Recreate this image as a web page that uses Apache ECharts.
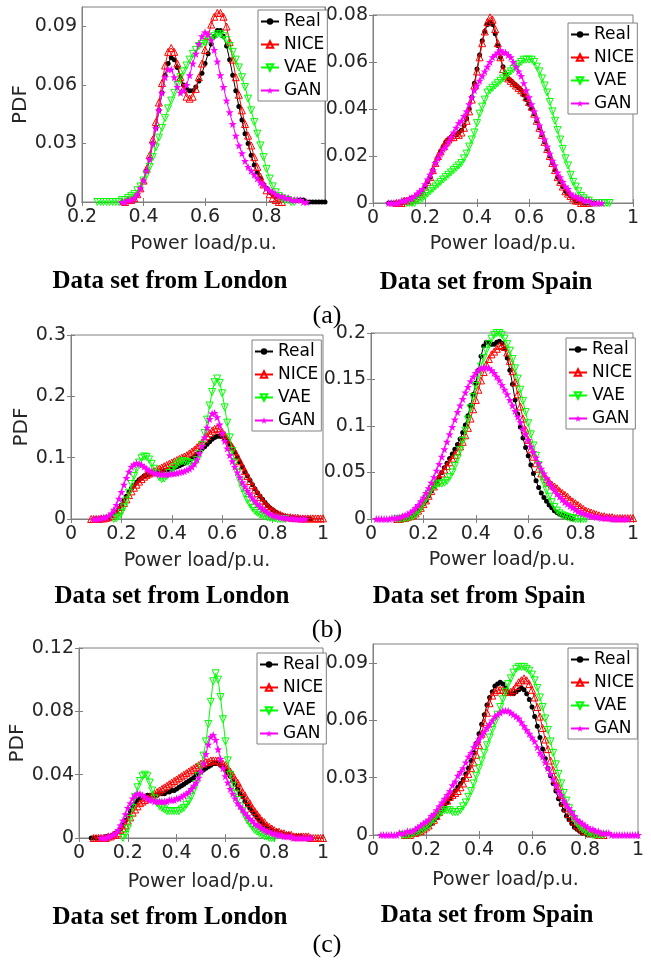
<!DOCTYPE html>
<html><head><meta charset="utf-8">
<script src="https://cdn.jsdelivr.net/npm/echarts@6/dist/echarts.min.js"></script>
<style>html,body{margin:0;padding:0;background:#fff}#c{width:651px;height:963px}</style>
</head><body><div id="c"></div>
<script>
// shared x grid (power load, p.u.)
const xGrid = [0,0.01,0.02,0.03,0.04,0.05,0.06,0.07,0.08,0.09,0.1,0.11,0.12,0.13,0.14,0.15,0.16,0.17,0.18,0.19,0.2,0.21,0.22,0.23,0.24,0.25,0.26,0.27,0.28,0.29,0.3,0.31,0.32,0.33,0.34,0.35,0.36,0.37,0.38,0.39,0.4,0.41,0.42,0.43,0.44,0.45,0.46,0.47,0.48,0.49,0.5,0.51,0.52,0.53,0.54,0.55,0.56,0.57,0.58,0.59,0.6,0.61,0.62,0.63,0.64,0.65,0.66,0.67,0.68,0.69,0.7,0.71,0.72,0.73,0.74,0.75,0.76,0.77,0.78,0.79,0.8,0.81,0.82,0.83,0.84,0.85,0.86,0.87,0.88,0.89,0.9,0.91,0.92,0.93,0.94,0.95,0.96,0.97,0.98,0.99,1];
const seriesNames = ['Real','NICE','VAE','GAN'];

// ---- (a) London ----
const lonA_start = [0.33,0.34,0.25,0.33];
const lonA_real = [0,0,0.001,0.001,0.002,0.004,0.007,0.011,0.016,0.022,0.030,0.038,0.047,0.056,0.065,0.071,0.074,0.073,0.069,0.064,0.060,0.058,0.057,0.057,0.059,0.062,0.066,0.071,0.076,0.081,0.085,0.088,0.088,0.085,0.080,0.073,0.065,0.057,0.049,0.042,0.035,0.030,0.024,0.019,0.015,0.012,0.009,0.007,0.005,0.004,0.003,0.003,0.002,0.002,0.002,0.001,0.001,0.001,0.001,0.001,0,0,0,0,0,0,0];
const lonA_nice = [0,0.001,0.001,0.002,0.004,0.007,0.011,0.017,0.024,0.032,0.041,0.051,0.061,0.070,0.077,0.079,0.077,0.071,0.064,0.058,0.054,0.053,0.054,0.058,0.064,0.071,0.078,0.085,0.091,0.095,0.097,0.097,0.095,0.090,0.082,0.073,0.064,0.055,0.047,0.040,0.034,0.029,0.023,0.018,0.013,0.009,0.006,0.004,0.002,0.001,0,0];
const lonA_vae = [0,0,0,0,0,0,0,0,0.001,0.001,0.002,0.003,0.004,0.006,0.008,0.011,0.014,0.018,0.023,0.028,0.033,0.038,0.043,0.048,0.052,0.056,0.060,0.064,0.067,0.070,0.073,0.076,0.078,0.080,0.081,0.082,0.083,0.084,0.085,0.086,0.086,0.085,0.083,0.080,0.077,0.073,0.069,0.064,0.059,0.053,0.047,0.041,0.035,0.029,0.023,0.017,0.012,0.008,0.005,0.003,0.002,0.001,0.001,0,0];
const lonA_gan = [0,0,0.001,0.001,0.002,0.004,0.007,0.011,0.016,0.022,0.030,0.038,0.047,0.056,0.064,0.068,0.068,0.064,0.059,0.056,0.057,0.060,0.065,0.071,0.076,0.081,0.085,0.087,0.086,0.083,0.078,0.072,0.065,0.059,0.052,0.046,0.040,0.034,0.029,0.025,0.021,0.018,0.016,0.014,0.012,0.010,0.009,0.007,0.006,0.005,0.004,0.003,0.003,0.002,0.002,0.001,0.001,0.001,0.001,0,0];
const lonA_xticks = [0.2,0.4,0.6,0.8];
const lonA_yticks = [0,0.03,0.06,0.09];

// ---- (a) Spain ----
const spaA_start = [0.06,0.09,0.13,0.06];
const spaA_real = [0,0,0,0,0,0,0.001,0.001,0.001,0.002,0.002,0.003,0.004,0.005,0.007,0.009,0.011,0.014,0.017,0.019,0.022,0.024,0.026,0.027,0.028,0.029,0.029,0.030,0.031,0.033,0.036,0.040,0.045,0.051,0.057,0.063,0.069,0.073,0.076,0.077,0.076,0.072,0.067,0.062,0.058,0.055,0.053,0.052,0.051,0.050,0.049,0.048,0.046,0.044,0.042,0.040,0.038,0.035,0.032,0.029,0.026,0.023,0.020,0.017,0.014,0.011,0.009,0.007,0.005,0.004,0.003,0.002,0.001,0.001,0.001,0,0,0,0,0];
const spaA_nice = [0,0,0,0.001,0.001,0.001,0.002,0.002,0.003,0.004,0.005,0.007,0.009,0.011,0.014,0.017,0.020,0.022,0.024,0.026,0.027,0.028,0.028,0.029,0.029,0.030,0.032,0.035,0.039,0.044,0.050,0.056,0.062,0.068,0.073,0.077,0.079,0.078,0.074,0.068,0.062,0.057,0.054,0.053,0.052,0.051,0.050,0.049,0.048,0.047,0.045,0.043,0.041,0.038,0.035,0.032,0.029,0.026,0.023,0.020,0.017,0.014,0.011,0.009,0.007,0.005,0.004,0.003,0.002,0.001,0.001,0,0,0,0];
const spaA_vae = [0,0,0,0,0.001,0.001,0.002,0.003,0.004,0.005,0.006,0.007,0.008,0.009,0.010,0.011,0.012,0.013,0.014,0.015,0.016,0.017,0.019,0.021,0.024,0.027,0.030,0.034,0.038,0.041,0.044,0.047,0.048,0.049,0.050,0.051,0.052,0.053,0.054,0.055,0.056,0.057,0.058,0.059,0.060,0.061,0.061,0.061,0.061,0.060,0.058,0.056,0.053,0.050,0.047,0.043,0.039,0.035,0.031,0.027,0.023,0.019,0.016,0.012,0.009,0.007,0.005,0.003,0.002,0.001,0.001,0,0,0,0,0,0,0,0];
const spaA_gan = [0,0,0,0,0,0.001,0.001,0.001,0.002,0.002,0.003,0.004,0.005,0.006,0.008,0.010,0.012,0.014,0.017,0.019,0.021,0.023,0.024,0.026,0.028,0.030,0.032,0.034,0.035,0.037,0.039,0.042,0.045,0.048,0.050,0.052,0.054,0.056,0.058,0.060,0.062,0.063,0.064,0.065,0.064,0.064,0.063,0.062,0.060,0.058,0.056,0.054,0.051,0.048,0.045,0.042,0.039,0.036,0.033,0.030,0.027,0.024,0.021,0.018,0.016,0.013,0.011,0.009,0.007,0.006,0.004,0.003,0.003,0.002,0.002,0.001,0.001,0.001,0,0,0,0,0];
const spaA_xticks = [0,0.2,0.4,0.6,0.8,1];
const spaA_yticks = [0,0.02,0.04,0.06,0.08];

// ---- (b) London ----
const lonB_start = [0.10,0.08,0.17,0.09];
const lonB_real = [0,0,0.001,0.001,0.002,0.003,0.005,0.008,0.012,0.017,0.023,0.030,0.037,0.044,0.050,0.055,0.060,0.064,0.067,0.070,0.072,0.073,0.074,0.075,0.076,0.077,0.078,0.079,0.080,0.081,0.082,0.084,0.085,0.087,0.089,0.091,0.093,0.096,0.099,0.102,0.106,0.110,0.114,0.118,0.122,0.126,0.130,0.133,0.135,0.135,0.134,0.131,0.127,0.122,0.116,0.109,0.101,0.093,0.085,0.077,0.070,0.063,0.056,0.049,0.043,0.037,0.032,0.027,0.022,0.018,0.015,0.012,0.009,0.007,0.005,0.004,0.003,0.002,0.002,0.001,0.001,0.001,0,0,0,0];
const lonB_nice = [0,0,0,0,0.001,0.001,0.002,0.003,0.005,0.008,0.011,0.015,0.020,0.026,0.032,0.039,0.045,0.051,0.056,0.061,0.065,0.069,0.072,0.074,0.076,0.078,0.080,0.082,0.084,0.086,0.088,0.090,0.092,0.094,0.096,0.098,0.100,0.102,0.104,0.107,0.110,0.113,0.117,0.121,0.125,0.130,0.135,0.140,0.144,0.147,0.148,0.146,0.142,0.137,0.131,0.124,0.117,0.110,0.102,0.094,0.086,0.078,0.070,0.062,0.055,0.048,0.042,0.036,0.030,0.025,0.021,0.017,0.014,0.011,0.009,0.007,0.005,0.004,0.003,0.003,0.002,0.002,0.002,0.001,0.001,0.001,0.001,0.001,0.001,0.001,0.001,0.001,0.001];
const lonB_vae = [0,0.001,0.004,0.010,0.019,0.030,0.043,0.057,0.070,0.082,0.092,0.099,0.102,0.101,0.097,0.090,0.082,0.074,0.068,0.065,0.066,0.070,0.075,0.080,0.085,0.089,0.092,0.094,0.094,0.093,0.091,0.090,0.091,0.096,0.106,0.121,0.140,0.162,0.185,0.207,0.223,0.229,0.222,0.205,0.182,0.157,0.133,0.111,0.092,0.076,0.062,0.050,0.040,0.031,0.024,0.018,0.013,0.010,0.007,0.005,0.004,0.003,0.002,0.001,0.001,0,0,0,0];
const lonB_gan = [0,0,0,0.001,0.002,0.003,0.005,0.009,0.015,0.023,0.033,0.044,0.056,0.067,0.077,0.085,0.089,0.091,0.090,0.088,0.085,0.082,0.079,0.077,0.075,0.074,0.073,0.073,0.073,0.073,0.073,0.074,0.074,0.075,0.076,0.077,0.078,0.080,0.082,0.085,0.090,0.097,0.107,0.119,0.133,0.149,0.163,0.172,0.173,0.166,0.154,0.140,0.127,0.115,0.104,0.094,0.085,0.076,0.068,0.060,0.053,0.046,0.040,0.034,0.029,0.024,0.020,0.016,0.013,0.010,0.008,0.006,0.005,0.004,0.003,0.002,0.002,0.001,0.001,0.001,0,0,0,0,0];
const lonB_xticks = [0,0.2,0.4,0.6,0.8,1];
const lonB_yticks = [0,0.1,0.2,0.3];

// ---- (b) Spain ----
const spaB_start = [0.10,0.10,0.10,0.02];
const spaB_real = [0,0,0.001,0.001,0.002,0.003,0.004,0.006,0.009,0.012,0.016,0.020,0.025,0.030,0.035,0.040,0.045,0.050,0.055,0.060,0.065,0.070,0.075,0.080,0.086,0.093,0.101,0.111,0.122,0.134,0.146,0.160,0.175,0.186,0.190,0.190,0.188,0.188,0.190,0.191,0.189,0.183,0.173,0.160,0.145,0.128,0.113,0.099,0.087,0.077,0.068,0.058,0.049,0.041,0.034,0.028,0.023,0.019,0.015,0.012,0.009,0.007,0.005,0.004,0.003,0.002,0.001,0];
const spaB_nice = [0,0,0.001,0.001,0.002,0.003,0.004,0.006,0.009,0.012,0.016,0.020,0.025,0.030,0.035,0.040,0.045,0.049,0.053,0.057,0.061,0.065,0.069,0.073,0.078,0.083,0.090,0.098,0.108,0.118,0.128,0.139,0.149,0.158,0.166,0.172,0.177,0.180,0.183,0.186,0.187,0.185,0.179,0.170,0.159,0.147,0.134,0.121,0.108,0.096,0.085,0.075,0.067,0.060,0.054,0.049,0.046,0.043,0.040,0.037,0.035,0.033,0.030,0.028,0.026,0.024,0.021,0.019,0.017,0.015,0.013,0.011,0.009,0.008,0.007,0.006,0.005,0.004,0.003,0.003,0.002,0.002,0.002,0.001,0.001,0.001,0.001,0.001,0.001,0.001,0.001];
const spaB_vae = [0,0,0,0.001,0.001,0.002,0.003,0.005,0.008,0.012,0.017,0.022,0.027,0.032,0.035,0.037,0.038,0.038,0.039,0.041,0.045,0.050,0.057,0.065,0.074,0.084,0.095,0.107,0.119,0.131,0.143,0.154,0.164,0.173,0.181,0.188,0.194,0.198,0.200,0.200,0.198,0.194,0.188,0.181,0.172,0.162,0.151,0.139,0.127,0.115,0.103,0.091,0.079,0.068,0.058,0.048,0.039,0.031,0.024,0.018,0.013,0.009,0.006,0.004,0.003,0.002,0.001,0.001,0,0,0,0,0];
const spaB_gan = [0,0,0,0,0,0,0.001,0.001,0.001,0.002,0.003,0.004,0.005,0.007,0.009,0.012,0.015,0.019,0.023,0.028,0.033,0.039,0.045,0.052,0.059,0.067,0.075,0.083,0.091,0.099,0.107,0.115,0.122,0.129,0.136,0.142,0.148,0.153,0.157,0.160,0.162,0.163,0.163,0.162,0.160,0.157,0.153,0.149,0.144,0.139,0.134,0.128,0.122,0.116,0.110,0.104,0.097,0.091,0.085,0.078,0.072,0.066,0.060,0.054,0.049,0.044,0.039,0.035,0.031,0.027,0.024,0.021,0.018,0.016,0.014,0.012,0.010,0.008,0.007,0.006,0.005,0.004,0.003,0.003,0.002,0.002,0.001,0.001,0.001,0.001,0,0,0,0,0,0,0];
const spaB_xticks = [0,0.2,0.4,0.6,0.8,1];
const spaB_yticks = [0,0.05,0.1,0.15,0.2];

// ---- (c) London ----
const lonC_start = [0.05,0.06,0.18,0.09];
const lonC_real = [0,0,0,0,0,0,0.001,0.001,0.001,0.002,0.003,0.004,0.006,0.008,0.011,0.014,0.017,0.020,0.022,0.024,0.025,0.026,0.026,0.027,0.027,0.027,0.027,0.027,0.028,0.028,0.028,0.029,0.029,0.030,0.030,0.031,0.032,0.033,0.034,0.035,0.036,0.037,0.038,0.040,0.041,0.042,0.043,0.044,0.045,0.046,0.047,0.047,0.047,0.046,0.045,0.043,0.041,0.039,0.036,0.034,0.031,0.028,0.026,0.023,0.021,0.019,0.017,0.015,0.013,0.011,0.010,0.008,0.007,0.006,0.005,0.004,0.004,0.003,0.003,0.002,0.002,0.002,0.001,0.001,0.001,0.001,0.001,0,0,0,0];
const lonC_nice = [0,0,0,0,0,0,0.001,0.001,0.002,0.002,0.003,0.005,0.006,0.008,0.011,0.013,0.016,0.018,0.020,0.022,0.023,0.024,0.025,0.026,0.027,0.028,0.029,0.030,0.031,0.032,0.033,0.034,0.035,0.036,0.037,0.038,0.039,0.040,0.041,0.042,0.043,0.044,0.045,0.046,0.047,0.047,0.048,0.048,0.049,0.049,0.049,0.049,0.048,0.047,0.046,0.044,0.042,0.040,0.037,0.035,0.032,0.029,0.027,0.024,0.022,0.019,0.017,0.015,0.013,0.011,0.010,0.008,0.007,0.006,0.005,0.004,0.004,0.003,0.003,0.002,0.002,0.002,0.001,0.001,0.001,0.001,0.001,0.001,0.001,0,0,0,0,0,0];
const lonC_vae = [0,0.002,0.006,0.012,0.019,0.026,0.032,0.036,0.039,0.040,0.039,0.035,0.030,0.025,0.022,0.020,0.019,0.018,0.017,0.017,0.017,0.017,0.017,0.017,0.018,0.019,0.021,0.023,0.026,0.030,0.034,0.039,0.045,0.052,0.061,0.072,0.086,0.099,0.104,0.100,0.089,0.075,0.061,0.049,0.040,0.033,0.028,0.024,0.020,0.017,0.014,0.011,0.009,0.007,0.005,0.004,0.003,0.002,0.001,0.001,0,0,0];
const lonC_gan = [0,0,0,0.001,0.001,0.002,0.003,0.005,0.008,0.011,0.015,0.019,0.022,0.025,0.027,0.028,0.028,0.027,0.026,0.025,0.024,0.024,0.023,0.023,0.023,0.023,0.023,0.023,0.024,0.024,0.024,0.025,0.025,0.026,0.027,0.028,0.029,0.031,0.033,0.035,0.038,0.042,0.047,0.053,0.059,0.064,0.065,0.062,0.056,0.050,0.044,0.039,0.035,0.031,0.028,0.025,0.022,0.020,0.018,0.016,0.014,0.012,0.011,0.009,0.008,0.007,0.006,0.005,0.004,0.004,0.003,0.003,0.002,0.002,0.002,0.001,0.001,0.001,0.001,0,0,0,0,0,0,0,0];
const lonC_xticks = [0,0.2,0.4,0.6,0.8,1];
const lonC_yticks = [0,0.04,0.08,0.12];

// ---- (c) Spain ----
const spaC_start = [0.12,0.12,0.11,0.03];
const spaC_real = [0,0,0,0.001,0.001,0.002,0.002,0.003,0.004,0.005,0.006,0.008,0.009,0.011,0.013,0.015,0.017,0.019,0.021,0.023,0.025,0.027,0.029,0.032,0.035,0.039,0.043,0.048,0.053,0.058,0.063,0.068,0.072,0.075,0.078,0.079,0.080,0.079,0.077,0.075,0.074,0.074,0.075,0.076,0.077,0.076,0.074,0.071,0.067,0.062,0.057,0.051,0.045,0.040,0.035,0.031,0.027,0.023,0.019,0.016,0.013,0.010,0.008,0.006,0.004,0.003,0.002,0.001,0.001,0,0,0,0,0];
const spaC_nice = [0,0,0,0.001,0.001,0.002,0.002,0.003,0.004,0.005,0.007,0.008,0.010,0.012,0.014,0.016,0.018,0.020,0.021,0.022,0.023,0.025,0.027,0.030,0.032,0.035,0.038,0.042,0.047,0.053,0.059,0.064,0.069,0.073,0.075,0.076,0.076,0.076,0.075,0.075,0.075,0.076,0.078,0.080,0.081,0.082,0.081,0.079,0.076,0.072,0.067,0.062,0.056,0.050,0.045,0.039,0.034,0.029,0.025,0.021,0.017,0.014,0.011,0.009,0.007,0.005,0.004,0.003,0.002,0.002,0.001,0.001,0.001,0,0,0];
const spaC_vae = [0,0,0,0,0.001,0.001,0.002,0.002,0.003,0.004,0.005,0.007,0.008,0.010,0.011,0.012,0.013,0.013,0.013,0.012,0.012,0.012,0.013,0.015,0.017,0.020,0.023,0.027,0.031,0.035,0.039,0.043,0.047,0.051,0.055,0.059,0.063,0.067,0.071,0.075,0.079,0.082,0.085,0.087,0.088,0.088,0.088,0.087,0.086,0.084,0.081,0.077,0.072,0.067,0.061,0.055,0.049,0.043,0.037,0.032,0.027,0.022,0.018,0.014,0.011,0.008,0.006,0.004,0.003,0.002,0.001,0.001,0,0,0,0,0];
const spaC_gan = [0,0,0,0,0,0,0,0.001,0.001,0.001,0.002,0.002,0.002,0.003,0.004,0.005,0.006,0.007,0.008,0.010,0.011,0.013,0.015,0.017,0.019,0.021,0.023,0.026,0.028,0.031,0.033,0.035,0.038,0.041,0.043,0.046,0.048,0.050,0.052,0.054,0.056,0.058,0.060,0.062,0.063,0.064,0.065,0.065,0.065,0.064,0.063,0.062,0.061,0.059,0.057,0.055,0.053,0.051,0.049,0.046,0.043,0.041,0.038,0.035,0.032,0.029,0.026,0.023,0.021,0.018,0.016,0.014,0.012,0.010,0.008,0.007,0.006,0.005,0.004,0.003,0.003,0.002,0.002,0.001,0.001,0.001,0.001,0,0,0,0,0,0,0,0,0,0,0];
const spaC_xticks = [0,0.2,0.4,0.6,0.8,1];
const spaC_yticks = [0,0.03,0.06,0.09];

// ---- layout (positions/styles only) ----
const panels = [
  {ys:[lonA_real,lonA_nice,lonA_vae,lonA_gan], st:lonA_start, xt:lonA_xticks, yt:lonA_yticks, xr:[0.2,0.99], yr:[0,0.1],
   g:{left:82,top:7,width:243,height:195}, lg:{left:258,top:10}, pdf:44, xGap:33, title:[170,282,'Data set from London']},
  {ys:[spaA_real,spaA_nice,spaA_vae,spaA_gan], st:spaA_start, xt:spaA_xticks, yt:spaA_yticks, xr:[0,1], yr:[0,0.08],
   g:{left:373,top:15,width:260,height:188}, lg:{left:568,top:23}, pdf:0, xGap:32, title:[486,283,'Data set from Spain']},
  {ys:[lonB_real,lonB_nice,lonB_vae,lonB_gan], st:lonB_start, xt:lonB_xticks, yt:lonB_yticks, xr:[0,1], yr:[0,0.3],
   g:{left:71,top:335,width:252,height:184}, lg:{left:252,top:340}, pdf:32, xGap:33, title:[172,597,'Data set from London']},
  {ys:[spaB_real,spaB_nice,spaB_vae,spaB_gan], st:spaB_start, xt:spaB_xticks, yt:spaB_yticks, xr:[0,1], yr:[0,0.2],
   g:{left:371,top:333,width:262,height:186}, lg:{left:566,top:338}, pdf:0, xGap:32, title:[479,597,'Data set from Spain']},
  {ys:[lonC_real,lonC_nice,lonC_vae,lonC_gan], st:lonC_start, xt:lonC_xticks, yt:lonC_yticks, xr:[0,1], yr:[0,0.12],
   g:{left:79,top:648,width:244,height:190}, lg:{left:257,top:653}, pdf:43, xGap:35, title:[170,918,'Data set from London']},
  {ys:[spaC_real,spaC_nice,spaC_vae,spaC_gan], st:spaC_start, xt:spaC_xticks, yt:spaC_yticks, xr:[0,1], yr:[0,0.1],
   g:{left:373,top:644,width:265,height:191}, lg:{left:568,top:648}, pdf:0, xGap:36, title:[487,916,'Data set from Spain']}
];
const panelTags = [['(a)',327,316],['(b)',327,630],['(c)',327,945]];

const SANS = 'DejaVu Sans';
const AX = '#808080';
const TXT = '#262626';
const starPath = 'path://M0,-10 L2.35,-3.24 L9.51,-3.09 L3.8,1.24 L5.88,8.09 L0,4 L-5.88,8.09 L-3.8,1.24 L-9.51,-3.09 L-2.35,-3.24 Z';
const sty = [
  {symbol:'circle', symbolSize:5, itemStyle:{color:'#000000'}, lineStyle:{color:'#000000', width:1}},
  {symbol:'triangle', symbolSize:7, itemStyle:{color:'rgba(255,255,255,0)', borderColor:'#ff0000', borderWidth:1}, lineStyle:{color:'#ff0000', width:1}},
  {symbol:'triangle', symbolSize:7, symbolRotate:180, itemStyle:{color:'rgba(255,255,255,0)', borderColor:'#00ff00', borderWidth:1}, lineStyle:{color:'#00ff00', width:1}},
  {symbol:starPath, symbolSize:8, itemStyle:{color:'#ff00ff'}, lineStyle:{color:'#ff00ff', width:1}}
];

function mk(ys, start){
  const i0 = Math.round(start*100);
  return ys.map((y,i)=>[xGrid[i0+i], y]).filter(p=>p[0]!==undefined);
}

const option = {animation:false, backgroundColor:'#fff', grid:[], xAxis:[], yAxis:[], series:[], legend:[], graphic:[]};
panels.forEach((p,k)=>{
  option.grid.push(Object.assign({show:true, borderColor:AX, borderWidth:1}, p.g));
  const tick = v=>({inside:true, length:4, customValues:v, lineStyle:{color:AX}});
  option.xAxis.push({gridIndex:k, type:'value', min:p.xr[0], max:p.xr[1], position:'bottom',
    axisLine:{show:true, lineStyle:{color:AX}}, axisTick:tick(p.xt), splitLine:{show:false},
    axisLabel:{customValues:p.xt, fontFamily:SANS, fontSize:19, color:TXT, margin:6},
    name:'Power load/p.u.', nameLocation:'middle', nameGap:p.xGap, nameTextStyle:{fontFamily:SANS, fontSize:19, color:TXT}});
  option.xAxis.push({gridIndex:k, type:'value', min:p.xr[0], max:p.xr[1], position:'top',
    axisLine:{show:true, lineStyle:{color:AX}}, axisTick:tick(p.xt), axisLabel:{show:false}, splitLine:{show:false}});
  const yl = {gridIndex:k, type:'value', min:p.yr[0], max:p.yr[1], position:'left',
    axisLine:{show:true, lineStyle:{color:AX}}, axisTick:tick(p.yt), splitLine:{show:false},
    axisLabel:{customValues:p.yt, fontFamily:SANS, fontSize:19, color:TXT, margin:5}};
  if (p.pdf) Object.assign(yl, {name:'PDF', nameLocation:'middle', nameGap:p.pdf, nameTextStyle:{fontFamily:SANS, fontSize:20, color:TXT}});
  option.yAxis.push(yl);
  option.yAxis.push({gridIndex:k, type:'value', min:p.yr[0], max:p.yr[1], position:'right',
    axisLine:{show:true, lineStyle:{color:AX}}, axisTick:tick(p.yt), axisLabel:{show:false}, splitLine:{show:false}});
  p.ys.forEach((ys,j)=>{
    option.series.push(Object.assign({type:'line', name:seriesNames[j], xAxisIndex:2*k, yAxisIndex:2*k,
      data:mk(ys, p.st[j]), showSymbol:true, smooth:false, emphasis:{disabled:true}, z:2+j*0.01}, sty[j]));
  });
  option.legend.push({orient:'vertical', left:p.lg.left, top:p.lg.top, data:seriesNames, selectedMode:false,
    itemWidth:18, itemHeight:8, itemGap:6, padding:[3,3,2,2], borderColor:AX, borderWidth:1, backgroundColor:'#fff',
    textStyle:{fontFamily:SANS, fontSize:17, lineHeight:17, color:'#000'}});
  option.graphic.push({type:'text', x:p.title[0], y:p.title[1], style:{text:p.title[2], font:'bold 25px "Liberation Serif"',
    fill:'#000', align:'center', verticalAlign:'middle', textAlign:'center', textVerticalAlign:'middle'}});
});
panelTags.forEach(t=>option.graphic.push({type:'text', x:t[1], y:t[2], style:{text:t[0], font:'26px "Liberation Serif"',
  fill:'#000', align:'center', verticalAlign:'middle', textAlign:'center', textVerticalAlign:'middle'}}));

const chart = echarts.init(document.getElementById('c'), null, {renderer:'canvas'});
chart.setOption(option);
</script></body></html>
